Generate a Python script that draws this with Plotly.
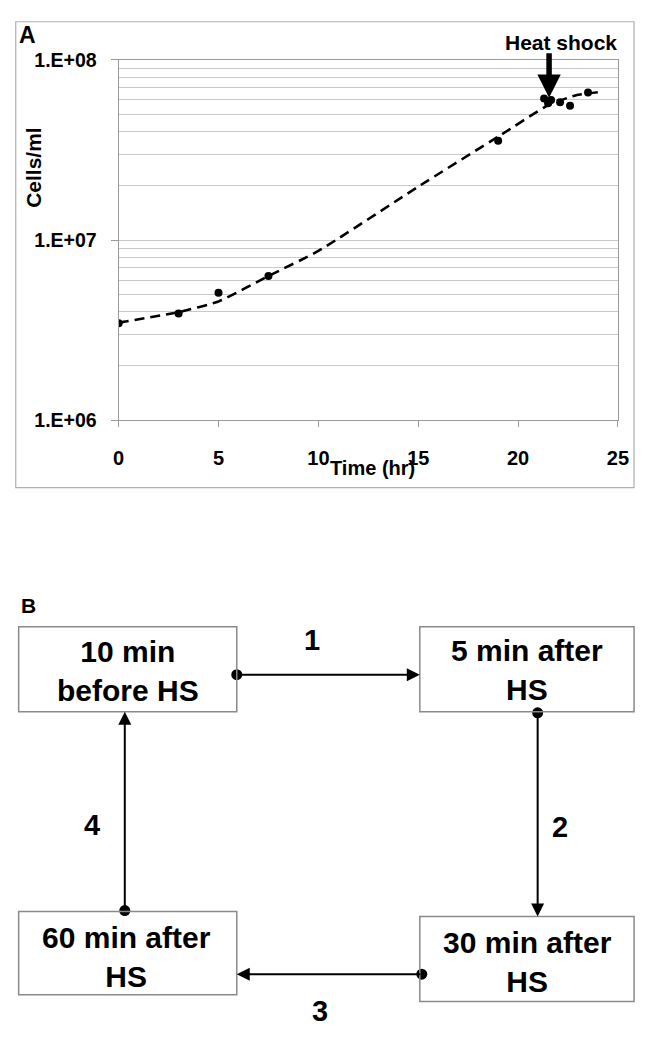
import plotly.graph_objects as go

# ---------------- data ----------------
time_hr = [0, 3, 5, 7.5, 19, 21.3, 21.5, 21.65, 22.1, 22.6, 23.5]
cells_ml = [3.45e6, 3.91e6, 5.09e6, 6.32e6, 3.56e7, 6.1e7, 5.75e7, 6.0e7, 5.82e7, 5.57e7, 6.59e7]

trend_x = [0, 3, 5, 7.5, 10, 15, 19, 21.5, 22.9, 24.1]
trend_y = [3.48e6, 3.98e6, 4.56e6, 6.31e6, 8.7e6, 1.98e7, 3.75e7, 5.6e7, 6.37e7, 6.64e7]

x_ticks = [0, 5, 10, 15, 20, 25]
y_major = [1e6, 1e7, 1e8]
y_major_text = ["1.E+06", "1.E+07", "1.E+08"]
y_minor = [m * 10 ** e for e in (6, 7) for m in range(2, 10)]

stages = ["10 min<br>before HS", "5 min after<br>HS", "30 min after<br>HS", "60 min after<br>HS"]
steps = ["1", "2", "3", "4"]

# ---------------- layout constants (pixels) ----------------
W, H = 647, 1038
FONT = "Liberation Sans, Arial, sans-serif"
def px(x):
    return x / W
def py(y):
    return 1 - y / H

fig = go.Figure()

# Panel A
fig.add_trace(go.Scatter(x=trend_x, y=trend_y, mode="lines",
                         line=dict(color="black", width=2.6, dash="10px,6px", shape="spline", smoothing=0.5),
                         hoverinfo="skip", showlegend=False, xaxis="x", yaxis="y"))
fig.add_trace(go.Scatter(x=time_hr, y=cells_ml, mode="markers",
                         marker=dict(color="black", size=8),
                         showlegend=False, xaxis="x", yaxis="y"))

grid_c = "#c9c9c9"
fig.update_layout(
    width=W, height=H, margin=dict(l=0, r=0, t=0, b=0),
    paper_bgcolor="white", plot_bgcolor="white",
    font=dict(family=FONT, color="black"),
    xaxis=dict(domain=[px(115.7), px(628.5)], range=[0, 25], tickvals=x_ticks,
               showgrid=False, zeroline=False, showline=True, linecolor="#9a9a9a", linewidth=1.2,
               mirror=True, ticks="outside", ticklen=6, tickcolor="#9a9a9a",
               tickfont=dict(size=20, family=FONT, weight="bold"), ticklabelstandoff=14,
               anchor="y"),
    yaxis=dict(domain=[py(418), py(50)], type="log", range=[6, 8],
               tickvals=y_major, ticktext=y_major_text,
               showgrid=True, gridcolor=grid_c, gridwidth=1,
               minor=dict(tickvals=y_minor, showgrid=True, gridcolor=grid_c, gridwidth=1, ticks=""),
               zeroline=False, showline=True, linecolor="#9a9a9a", linewidth=1.2, mirror=True,
               ticks="outside", ticklen=7, tickcolor="#9a9a9a",
               tickfont=dict(size=19.5, family=FONT, weight="bold"), ticklabelstandoff=10,
               anchor="x"),
    xaxis2=dict(domain=[0, 1], range=[0, W], visible=False, anchor="y2", fixedrange=True),
    yaxis2=dict(domain=[0, py(560)], range=[H, 560], visible=False, anchor="x2", fixedrange=True),
)

# Panel A frame
fig.add_shape(type="rect", xref="paper", yref="paper", x0=px(10), x1=px(645), y0=py(487), y1=py(11),
              line=dict(color="#b0b0b0", width=1.2), layer="below")

C = dict(xanchor="center", yanchor="middle", showarrow=False)
ann = []
ann.append(dict(text="A", xref="paper", yref="paper", x=px(22), y=py(25), **C,
                font=dict(size=23, family=FONT, weight="bold")))
ann.append(dict(text="Cells/ml", xref="paper", yref="paper", x=px(28), y=py(160), textangle=-90, **C,
                font=dict(size=21, family=FONT, weight="bold")))
ann.append(dict(text="Time (hr)", xref="paper", yref="paper", x=px(376), y=py(467), **C,
                font=dict(size=20, family=FONT, weight="bold")))
ann.append(dict(text="Heat shock", xref="paper", yref="paper", x=px(570), y=py(32), **C,
                font=dict(size=21, family=FONT, weight="bold")))
# heat shock arrow (points at the heat shock time on the data axes)
ann.append(dict(text="", xref="x", yref="y", x=21.55, y=7.79, ax=0, ay=-46, showarrow=True,
                arrowhead=2, arrowsize=0.85, arrowwidth=5.5, arrowcolor="black"))

# Panel B
ann.append(dict(text="B", xref="paper", yref="paper", x=px(23), y=py(607), **C,
                font=dict(size=21, family=FONT, weight="bold")))

boxes = [(13, 237, 629, 716), (425, 645, 629, 716), (425, 645, 925, 1012), (13, 237, 920, 1005)]
text_centers = [(125, 674), (535, 673), (536, 972), (124, 966)]
for (x0, x1, y0, y1), (tx, ty), label in zip(boxes, text_centers, stages):
    fig.add_shape(type="rect", xref="x2", yref="y2", x0=x0, x1=x1, y0=y0, y1=y1,
                  line=dict(color="#8a8a8a", width=1.5))
    ann.append(dict(text=label, xref="x2", yref="y2", x=tx, y=ty, **C,
                    font=dict(size=30, family=FONT, weight="bold")))

# connectors: (start, end) in diagram pixel space
connectors = [((237, 678), (425, 678)), ((546, 717), (546, 925)),
              ((427, 984), (237, 984)), ((122, 919), (122, 716))]
label_pos = [(314, 643), (569, 834), (322, 1022), (88, 832)]
for ((sx, sy), (ex, ey)), (lx, ly), s in zip(connectors, label_pos, steps):
    ann.append(dict(text="", xref="x2", yref="y2", x=ex, y=ey, axref="x2", ayref="y2", ax=sx, ay=sy,
                    showarrow=True, arrowhead=2, arrowsize=1.3, arrowwidth=2, arrowcolor="black"))
    ann.append(dict(text=s, xref="x2", yref="y2", x=lx, y=ly, **C,
                    font=dict(size=29, family=FONT, weight="bold")))

fig.add_trace(go.Scatter(x=[c[0][0] for c in connectors], y=[c[0][1] for c in connectors],
                         mode="markers", marker=dict(color="black", size=11),
                         xaxis="x2", yaxis="y2", showlegend=False, hoverinfo="skip"))

fig.update_layout(annotations=ann)
fig.write_html("out.html", config={"displayModeBar": False},
               post_script="document.body.style.margin='0';document.body.style.overflow='hidden';")
